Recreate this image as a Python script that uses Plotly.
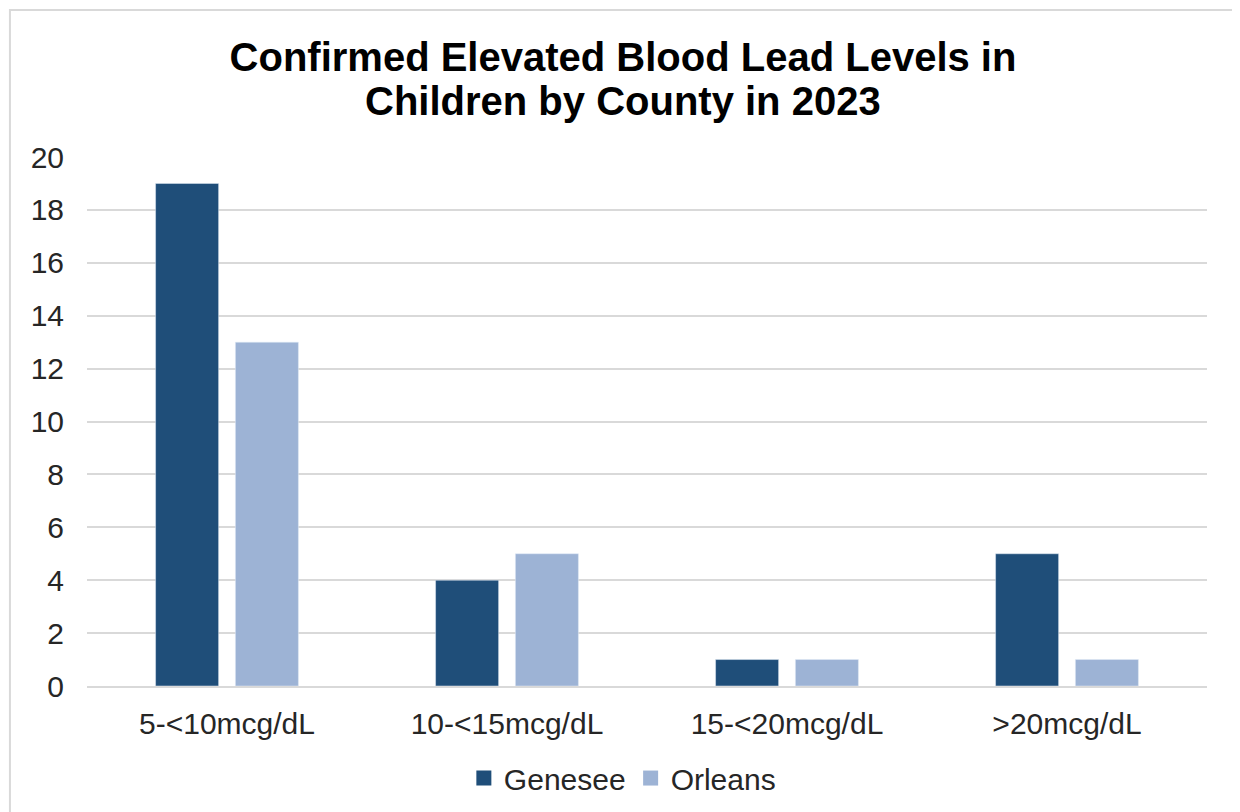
import plotly.graph_objects as go

categories = ["5-<10mcg/dL", "10-<15mcg/dL", "15-<20mcg/dL", ">20mcg/dL"]
genesee = [19, 4, 1, 5]
orleans = [13, 5, 1, 1]

dark, light = "#1F4E79", "#9DB3D5"

fig = go.Figure()
fig.add_trace(go.Bar(name="Genesee", x=categories, y=genesee, marker_color=dark, showlegend=False))
fig.add_trace(go.Bar(name="Orleans", x=categories, y=orleans, marker_color=light, showlegend=False))
# legend entries with bigger square keys
for name, col in [("Genesee", dark), ("Orleans", light)]:
    fig.add_trace(go.Scatter(
        name=name, x=[None], y=[None], mode="markers",
        marker=dict(symbol="square", size=15, color=col),
    ))

fig.update_layout(
    width=1240,
    height=812,
    margin=dict(l=79, r=41, t=149, b=134),
    paper_bgcolor="white",
    plot_bgcolor="white",
    font=dict(family="Liberation Sans, Arial", size=30, color="#262626"),
    title=dict(
        text="<b>Confirmed Elevated Blood Lead Levels in</b>",
        x=615 / 1240, xanchor="center", y=1 - 49 / 812, yanchor="middle",
        font=dict(size=40, color="black"),
    ),
    annotations=[dict(
        text="<b>Children by County in 2023</b>", showarrow=False,
        xref="paper", yref="paper", x=(615 - 79) / 1120, xanchor="center",
        y=(678 - 93) / 529, yanchor="middle",
        font=dict(size=40, color="black"),
    )],
    barmode="group",
    bargap=0.43,
    bargroupgap=0.21,
    legend=dict(
        orientation="h", x=0.478, xanchor="center", y=-0.174, yanchor="middle",
        font=dict(size=30), itemwidth=30, tracegroupgap=0,
    ),
    shapes=[dict(
        type="rect", xref="paper", yref="paper",
        x0=-0.0688, x1=1.0259, y0=-0.26, y1=1.278,
        line=dict(color="#D9D9D9", width=2), layer="below",
    )],
)
fig.update_yaxes(
    range=[0, 20], dtick=2, showgrid=True, gridcolor="#D9D9D9", gridwidth=1.5,
    zeroline=False, ticks="", ticklabelstandoff=22,
)
fig.update_xaxes(
    showline=True, linecolor="#D9D9D9", linewidth=2, ticks="", ticklabelstandoff=10,
)

fig.write_html("out.html")
